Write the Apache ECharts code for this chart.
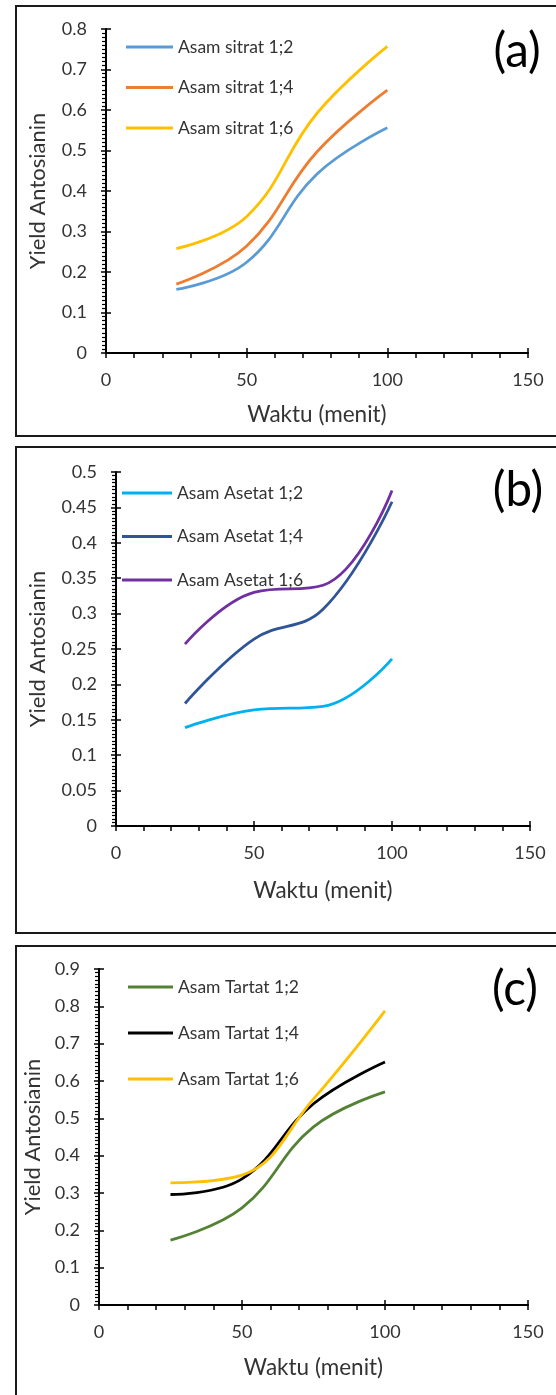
<!DOCTYPE html>
<html>
<head>
<meta charset="utf-8">
<script src="https://cdn.jsdelivr.net/npm/echarts@6/dist/echarts.min.js"></script>
<style>
html,body{margin:0;padding:0;background:#fff;}
#c{width:556px;height:1395px;}
</style>
</head>
<body>
<div id="c"></div>
<script>
// ---- data ----
const waktu = [25, 50, 75, 100];

const namesA = ['Asam sitrat 1;2', 'Asam sitrat 1;4', 'Asam sitrat 1;6'];
const sitrat12 = [0.157, 0.224, 0.442, 0.556];
const sitrat14 = [0.170, 0.264, 0.497, 0.649];
const sitrat16 = [0.258, 0.337, 0.592, 0.757];

const namesB = ['Asam Asetat 1;2', 'Asam Asetat 1;4', 'Asam Asetat 1;6'];
const asetat12 = [0.139, 0.164, 0.169, 0.236];
const asetat14 = [0.173, 0.264, 0.306, 0.458];
const asetat16 = [0.257, 0.330, 0.340, 0.474];

const namesC = ['Asam Tartat 1;2', 'Asam Tartat 1;4', 'Asam Tartat 1;6'];
const tartat12 = [0.174, 0.260, 0.477, 0.571];
const tartat14 = [0.296, 0.338, 0.539, 0.651];
const tartat16 = [0.327, 0.348, 0.552, 0.788];

const panelLabels = ['(a)', '(b)', '(c)'];
const xTitle = 'Waktu (menit)';
const yTitle = 'Yield Antosianin';

const colorsA = ['#5B9BD5', '#ED7D31', '#FFC000'];
const colorsB = ['#00B0F0', '#2F5597', '#7030A0'];
const colorsC = ['#548235', '#000000', '#FFC000'];

// ---- font sizing (fit text widths measured on the reference) ----
const FONT = 'Lato';
const TXT = '#333333';
const mctx = document.createElement('canvas').getContext('2d');
function fit(text, width) {
  mctx.font = '100px ' + FONT;
  return Math.round(100 * width / mctx.measureText(text).width * 2) / 2;
}
const tickSize = fit('150', 31);
const legendSize = (fit('Asam sitrat 1;2', 118) + fit('Asam Asetat 1;2', 129) + fit('Asam Tartat 1;2', 114)) / 3;
const xTitleSize = fit(xTitle, 140);
const yTitleSize = fit(yTitle, 157);
const panelLabelSize = fit('(a)', 47);

// ---- layout ----
const panels = [
  {grid:{left:106, top:29, width:422, height:324}, ymax:0.8, yint:0.1, yGap:57, xGap:50,
   names:namesA, vals:[sitrat12, sitrat14, sitrat16], colors:colorsA,
   legend:{left:121, top:32, itemWidth:47, itemGap:20.5}, label:[517, 52], box:[16, 6, 620, 430]},
  {grid:{left:116, top:472, width:414, height:354}, ymax:0.5, yint:0.05, yGap:67, xGap:53,
   names:namesB, vals:[asetat12, asetat14, asetat16], colors:colorsB,
   legend:{left:117, top:478, itemWidth:50, itemGap:23.5}, label:[518, 491], box:[16, 447, 620, 486]},
  {grid:{left:99, top:969, width:429, height:336}, ymax:0.9, yint:0.1, yGap:51, xGap:51,
   names:namesC, vals:[tartat12, tartat14, tartat16], colors:colorsC,
   legend:{left:123, top:972, itemWidth:45, itemGap:26}, label:[515, 990], box:[16, 946, 620, 520]}
];

const grids = [], xAxes = [], yAxes = [], series = [], legends = [], graphics = [];
const labelStyle = {fontFamily: FONT, fontSize: tickSize, color: TXT};

panels.forEach((p, i) => {
  grids.push(Object.assign({containLabel:false}, p.grid));
  xAxes.push({
    gridIndex:i, type:'value', min:0, max:150, interval:50, position:'bottom',
    axisLine:{onZero:false, lineStyle:{color:'#000', width:2}},
    axisTick:{show:true, length:5, lineStyle:{color:'#000', width:1.5}},
    minorTick:{show:true, splitNumber:5, length:5, lineStyle:{color:'#000', width:1.5}},
    splitLine:{show:false}, minorSplitLine:{show:false},
    axisLabel:Object.assign({margin:18}, labelStyle),
    name:xTitle, nameLocation:'middle', nameGap:p.xGap,
    nameTextStyle:{fontFamily:FONT, fontSize:xTitleSize, color:TXT}
  });
  xAxes.push({
    gridIndex:i, type:'value', min:0, max:150, interval:50, position:'bottom',
    axisLine:{show:false, onZero:false},
    axisTick:{show:true, inside:true, length:5, lineStyle:{color:'#000', width:1.5}},
    axisLabel:{show:false}, splitLine:{show:false}
  });
  yAxes.push({
    gridIndex:i, type:'value', min:0, max:p.ymax, interval:p.yint, position:'left',
    axisLine:{onZero:false, lineStyle:{color:'#000', width:2}},
    axisTick:{show:true, length:5, lineStyle:{color:'#000', width:1.5}},
    minorTick:{show:true, splitNumber:10, length:4, lineStyle:{color:'#000', width:1.2}},
    splitLine:{show:false}, minorSplitLine:{show:false},
    axisLabel:Object.assign({margin:19}, labelStyle),
    name:yTitle, nameLocation:'middle', nameGap:p.yGap,
    nameTextStyle:{fontFamily:FONT, fontSize:yTitleSize, color:TXT}
  });
  yAxes.push({
    gridIndex:i, type:'value', min:0, max:p.ymax, interval:p.yint, position:'left',
    axisLine:{show:false, onZero:false},
    axisTick:{show:true, inside:true, length:5, lineStyle:{color:'#000', width:1.5}},
    axisLabel:{show:false}, splitLine:{show:false}
  });
  p.names.forEach((nm, k) => {
    series.push({
      name:nm, type:'line', xAxisIndex:2*i, yAxisIndex:2*i,
      smooth:0.42, showSymbol:false, symbol:'none',
      lineStyle:{color:p.colors[k], width:2.8},
      itemStyle:{color:p.colors[k]},
      data: waktu.map((x, j) => [x, p.vals[k][j]]),
      silent:true
    });
  });
  legends.push({
    data:p.names, orient:'vertical', left:p.legend.left, top:p.legend.top,
    itemWidth:p.legend.itemWidth, itemHeight:3, itemGap:p.legend.itemGap, icon:'rect',
    textStyle:{fontFamily:FONT, fontSize:legendSize, color:TXT, lineHeight:20},
    selectedMode:false
  });
  graphics.push({
    type:'rect', shape:{x:p.box[0], y:p.box[1], width:p.box[2], height:p.box[3]},
    style:{fill:'none', stroke:'#1a1a1a', lineWidth:2}, silent:true
  });
  graphics.push({
    type:'text', x:p.label[0], y:p.label[1],
    style:{text:panelLabels[i], fontFamily:FONT, fontSize:panelLabelSize, fill:'#000', align:'center', verticalAlign:'middle'}
  });
});

const chart = echarts.init(document.getElementById('c'), null, {renderer:'canvas'});
chart.setOption({
  animation:false,
  backgroundColor:'#fff',
  grid:grids, xAxis:xAxes, yAxis:yAxes, series:series, legend:legends, graphic:graphics
});
</script>
</body>
</html>
